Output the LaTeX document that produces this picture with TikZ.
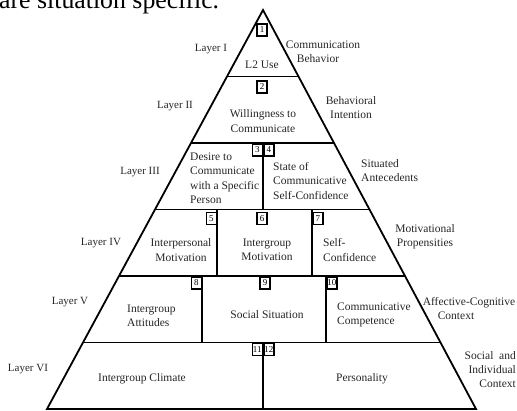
\documentclass[tikz,border=0pt]{standalone}
\usepackage{fontspec}
\setmainfont{Liberation Serif}
\usetikzlibrary{calc}

\begin{document}
\begin{tikzpicture} [x=1pt, y=-1pt,
        wall/.style={draw=black, line width=1.8pt},
        cell/.style={align=center, inner sep=0pt, text=black!85, font=\fontsize{11.5}{14.5}\selectfont},
        side/.style={align=center, inner sep=0pt, text=black!85, font=\fontsize{11.5}{14}\selectfont},
        layer/.style={inner sep=0pt, text=black!85, font=\fontsize{11}{13}\selectfont},
        numbox/.style={draw=black, line width=1.5pt, fill=white, inner sep=0.6pt, minimum width=10pt, minimum height=12pt, font=\fontsize{9}{9}\selectfont} ]
    \useasboundingbox (0,0) rectangle (517,410);
    % cut line of the page above
    \node[anchor=base west, inner sep=0pt, font=\fontsize{25.8}{30}\selectfont] (cut) at (-1,8) {are situation specific.};
    % pyramid
    \coordinate (apex) at (263,10);
    \coordinate (bl) at (47,409);
    \coordinate (br) at (476,409);
    \draw[wall] (apex) -- (bl) -- (br) -- cycle;
    \draw[wall] ($(apex)!1/6!(bl)$) -- ($(apex)!1/6!(br)$);
    \draw[wall] ($(apex)!2/6!(bl)$) -- ($(apex)!2/6!(br)$);
    \draw[wall] ($(apex)!3/6!(bl)$) -- ($(apex)!3/6!(br)$);
    \draw[wall] ($(apex)!4/6!(bl)$) -- ($(apex)!4/6!(br)$);
    \draw[wall] ($(apex)!5/6!(bl)$) -- ($(apex)!5/6!(br)$);
    \coordinate (d3) at (263,143);
    \coordinate (d4a) at (217,209.5);
    \coordinate (d4b) at (312,209.5);
    \coordinate (d5a) at (202,276);
    \coordinate (d5b) at (326,276);
    \coordinate (d6) at (263,342.5);
    \draw[wall] (d3) -- +(0,66.5);
    \draw[wall] (d4a) -- +(0,66.5);
    \draw[wall] (d4b) -- +(0,66.5);
    \draw[wall] (d5a) -- +(0,66.5);
    \draw[wall] (d5b) -- +(0,66.5);
    \draw[wall] (d6) -- (d6 |- bl);
    % layers
    \node[layer] (lay1) at (211,49) {Layer I};
    \node[layer] (lay2) at (175,106) {Layer II};
    \node[layer] (lay3) at (140,172) {Layer III};
    \node[layer] (lay4) at (101,243) {Layer IV};
    \node[layer] (lay5) at (70,302) {Layer V};
    \node[layer] (lay6) at (28,369) {Layer VI};
    % cells
    \node[cell] (use) at (262,65) {L2 Use};
    \node[cell] (wtc) at (263,121) {Willingness to\\Communicate};
    \node[cell, align=left, anchor=west] (desire) at (190,178) {Desire to\\Communicate\\with a Specific\\Person};
    \node[cell, align=left, anchor=west] (state) at (273,181) {State of\\Communicative\\Self-Confidence};
    \node[cell] (interp) at (181,250) {Interpersonal\\Motivation};
    \node[cell] (groupm) at (267,250) {Intergroup\\Motivation};
    \node[cell, align=left, anchor=west] (selfc) at (323,250) {Self-\\Confidence};
    \node[cell, align=left, anchor=west] (attit) at (127,316) {Intergroup\\Attitudes};
    \node[cell] (social) at (267,315) {Social Situation};
    \node[cell, align=left, anchor=west] (compet) at (337,315) {Communicative\\Competence};
    \node[cell] (climate) at (142,379) {Intergroup Climate};
    \node[cell] (person) at (362,379) {Personality};
    % right side
    \node[side] (behav) at (323,52) {Communication\\Behavior\hspace*{10pt}};
    \node[side] (intent) at (351,108) {Behavioral\\Intention};
    \node[side, align=left, anchor=west] (situ) at (361,171) {Situated\\Antecedents};
    \node[side] (motiv) at (425,237) {Motivational\\Propensities};
    \node[side] (affect) at (469,309) {Affective-Cognitive\\Context\hspace*{26pt}};
    \node[side, align=right, anchor=east] (context) at (516,370) {Social\ \ and\\Individual\\Context};
    % numbers
    \node[numbox] (n1) at (262,30) {1};
    \node[numbox] (n2) at (262,87) {2};
    \node[numbox, anchor=north east] (n3) at (d3) {3};
    \node[numbox, anchor=north west] (n4) at (d3) {4};
    \node[numbox, anchor=north east, yshift=-2pt] (n5) at (d4a) {5};
    \node[numbox, anchor=north, yshift=-2pt] (n6) at (262,209.5) {6};
    \node[numbox, anchor=north west, yshift=-2pt] (n7) at (d4b) {7};
    \node[numbox, anchor=north east] (n8) at (d5a) {8};
    \node[numbox, anchor=north] (n9) at (265,276) {9};
    \node[numbox, anchor=north west] (n10) at (d5b) {10};
    \node[numbox, anchor=north east] (n11) at (d6) {11};
    \node[numbox, anchor=north west] (n12) at (d6) {12};
    \end{tikzpicture}
\end{document}
